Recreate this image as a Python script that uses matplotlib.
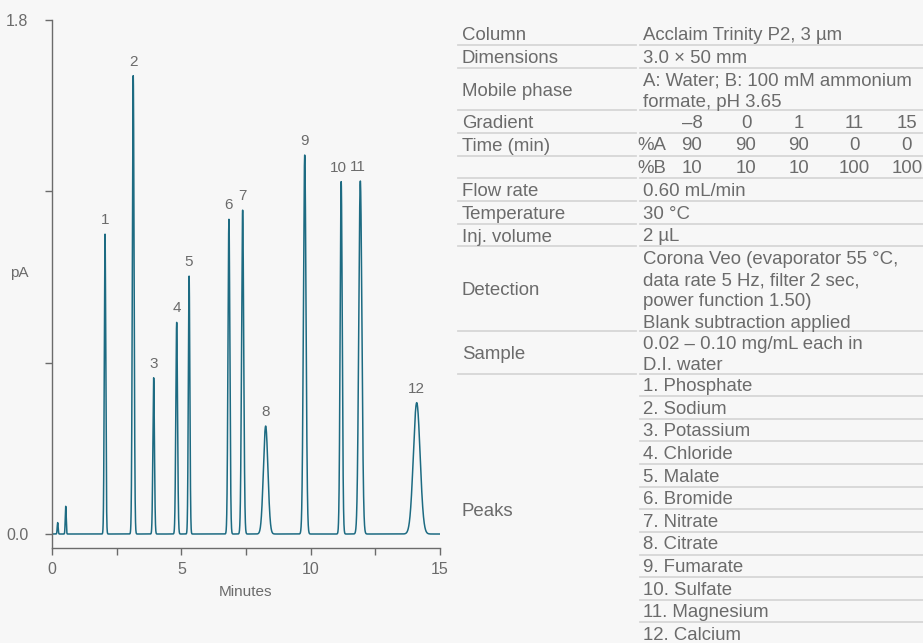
import matplotlib.pyplot as plt
import numpy as np

# chromatogram peaks (retention time, height in pA, sigma in min)
peak_ids = ["1", "2", "3", "4", "5", "6", "7", "8", "9", "10", "11", "12"]
peak_rt = [2.05, 3.14, 3.93, 4.82, 5.30, 6.84, 7.37, 8.26, 9.77, 11.18, 11.92, 14.10]
peak_height = [1.05, 1.605, 0.547, 0.741, 0.903, 1.102, 1.134, 0.378, 1.327, 1.234, 1.236, 0.46]
peak_sigma = [0.028, 0.033, 0.03, 0.033, 0.029, 0.036, 0.041, 0.087, 0.05, 0.04, 0.06, 0.13]
label_dx = [0, 0, 0, 0, 0, 0, 0, 0, 0, -3, -3, 0]  # px nudge for crowded labels

# small system peaks near the void
sys_rt = [0.22, 0.53]
sys_height = [0.04, 0.097]
sys_sigma = [0.018, 0.018]

x_ticks = [0, 5, 10, 15]
x_minor = [2.5, 7.5, 12.5]
y_ticks = [0.0, 0.6, 1.2, 1.8]
y_ticklabels = ["0.0", "", "", "1.8"]

# conditions table
row_labels = ["Column", "Dimensions", "Mobile phase", "Gradient", "Time (min)", "",
              "Flow rate", "Temperature", "Inj. volume", "Detection", "Sample"]
row_values = [
    ["Acclaim Trinity P2, 3 µm"],
    ["3.0 × 50 mm"],
    ["A: Water; B: 100 mM ammonium", "formate, pH 3.65"],
    None,
    None,
    None,
    ["0.60 mL/min"],
    ["30 °C"],
    ["2 µL"],
    ["Corona Veo (evaporator 55 °C,", "data rate 5 Hz, filter 2 sec,",
     "power function 1.50)", "Blank subtraction applied"],
    ["0.02 – 0.10 mg/mL each in", "D.I. water"],
]
grad_time = ["–8", "0", "1", "11", "15"]
grad_A = ["90", "90", "90", "0", "0"]
grad_B = ["10", "10", "10", "100", "100"]
peak_names = ["Phosphate", "Sodium", "Potassium", "Chloride", "Malate", "Bromide",
              "Nitrate", "Citrate", "Fumarate", "Sulfate", "Magnesium", "Calcium"]

W, H = 923, 643
bg = "#f7f7f7"
grey = "#6b6b6b"
teal = "#1d6b82"
rule = "#d6d6d6"
plt.rcParams["font.family"] = ["Liberation Sans", "DejaVu Sans"]

fig = plt.figure(figsize=(W / 100, H / 100), dpi=100, facecolor=bg)


def fx(x):
    return x / W


def fy(y):
    return 1 - y / H


# ---- chromatogram ----
ax = fig.add_axes([fx(52), fy(548), (440 - 52) / W, (548 - 20) / H])
ax.set_facecolor(bg)
t = np.linspace(0, 15, 15001)
signal = np.zeros_like(t)
for rt, h, s in zip(peak_rt + sys_rt, peak_height + sys_height, peak_sigma + sys_sigma):
    signal += h * np.exp(-0.5 * ((t - rt) / s) ** 2)
ax.plot(t, signal, color=teal, lw=1.1)

ax.set_xlim(0, 15)
ax.set_ylim(-0.049, 1.8)
ax.set_xticks(x_ticks)
ax.set_xticks(x_minor, minor=True)
ax.set_yticks(y_ticks)
ax.set_yticklabels(y_ticklabels)
ax.tick_params(axis="both", which="both", direction="out", length=5, width=1,
               color=grey, labelcolor=grey, labelsize=11.5)
ax.tick_params(axis="y", pad=12)
ax.tick_params(axis="x", pad=5)
for side in ["top", "right"]:
    ax.spines[side].set_visible(False)
for side in ["left", "bottom"]:
    ax.spines[side].set_color(grey)
    ax.spines[side].set_linewidth(1)
ax.set_xlabel("Minutes", fontsize=11, color=grey, labelpad=6)
fig.text(fx(19), fy(273), "pA", fontsize=11, color=grey, ha="center", va="center")

for pid, rt, h, dx in zip(peak_ids, peak_rt, peak_height, label_dx):
    ax.annotate(pid, (rt, h), xytext=(dx * 0.72, 5), textcoords="offset points",
                ha="center", va="bottom", fontsize=11, color=grey)

# ---- conditions table ----
fs = 13.4
lx, vx = 462, 643
left0, left1, right0, right1 = 458, 636, 640, 923


def hline(y, x0, x1):
    fig.add_artist(plt.Line2D([fx(x0), fx(x1)], [fy(y), fy(y)], color=rule, lw=1.3))


def put(x, y, s, ha="left"):
    fig.text(fx(x), fy(y), s, fontsize=fs, color=grey, ha=ha, va="baseline")


top = 22.5
single, pitch = 22.7, 21.2
for i, (lab, vals) in enumerate(zip(row_labels, row_values)):
    n = len(vals) if vals else 1
    h = single if n == 1 else n * pitch
    put(lx, top + h / 2 + 6.5, lab)
    if vals:
        for k, v in enumerate(vals):
            put(vx, top + 17.5 + k * pitch, v)
    bottom = top + h
    hline(bottom, left0, left1)
    hline(bottom, right0, right1)
    top = bottom

# gradient sub-table
gcols = [692, 746, 799, 854, 907]
g_top = 22.5 + single * 2 + 2 * pitch
for r, (prefix, vals) in enumerate([("", grad_time), ("%A", grad_A), ("%B", grad_B)]):
    base = g_top + r * single + 17.5
    if prefix:
        put(637, base, prefix)
    for cx, v in zip(gcols, vals):
        put(cx, base, v, ha="center")

# peak list
peaks_top = top
put(lx, peaks_top + 12 * 22.6 / 2 + 6.5, "Peaks")
for k, name in enumerate(peak_names):
    put(vx, peaks_top + 17.5 + k * 22.6, f"{k + 1}. {name}")
    if k < len(peak_names) - 1:
        hline(peaks_top + (k + 1) * 22.6, right0, right1)

fig.savefig("out.png", dpi=100, facecolor=bg)
